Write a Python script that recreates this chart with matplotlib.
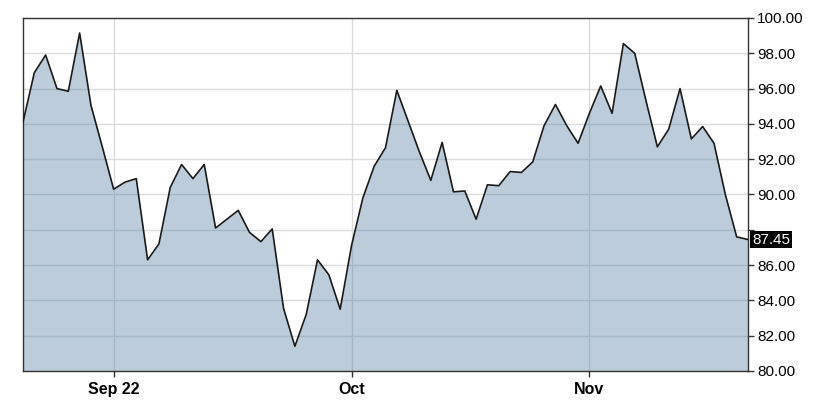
import numpy as np
import pandas as pd
import matplotlib
matplotlib.use('Agg')
import matplotlib.pyplot as plt

#%% data

# trading days Aug 22 - Nov 21 2022 (Labor Day closed)
dates = pd.bdate_range('2022-08-22', '2022-11-21')
dates = dates[dates != pd.Timestamp('2022-09-05')]

prices = [94.1, 96.9, 97.9, 96.0, 95.85, 99.15, 95.05, 92.7, 90.3, 90.7,
          90.9, 86.3, 87.2, 90.4, 91.7, 90.9, 91.7, 88.1, 88.6, 89.1,
          87.85, 87.33, 88.05, 83.55, 81.4, 83.2, 86.3, 85.45, 83.5, 87.1,
          89.8, 91.6, 92.65, 95.9, 94.15, 92.4, 90.8, 92.95, 90.15, 90.2,
          88.6, 90.55, 90.5, 91.3, 91.25, 91.85, 93.9, 95.1, 93.9, 92.9,
          94.6, 96.15, 94.6, 98.55, 98.0, 95.3, 92.7, 93.7, 96.0, 93.15,
          93.85, 92.9, 90.0, 87.6, 87.45]

month_labels = ['Sep 22', 'Oct', 'Nov']
y_ticks = [80, 82, 84, 86, 88, 90, 92, 94, 96, 98, 100]
last_label = '87.45'

#%% plot

plt.rcParams['font.family'] = ['Liberation Sans', 'DejaVu Sans']

fig = plt.figure(figsize=(8.16, 4.09), dpi=100)
ax = fig.add_axes([23/816, 1-371/409, 725/816, 353/409])

x = np.arange(len(prices))
ax.fill_between(x, prices, 80, color='#3f6f99', alpha=0.35, lw=0, zorder=2)
ax.plot(x, prices, color='#1a1a1a', lw=1.2, zorder=3)

# first trading day of each month
months = dates.month
month_pos = [i for i in range(1, len(dates)) if months[i] != months[i-1]]

ax.set_xlim(0, len(prices) - 1)
ax.set_ylim(80, 100)
ax.set_xticks(month_pos)
ax.set_xticklabels(month_labels, fontweight='bold', fontsize=11.5)
ax.set_yticks(y_ticks)
# the last-price tag takes the place of the label it sits on
ylabels = ['%.2f' % v for v in y_ticks]
near = int(np.argmin(np.abs(np.array(y_ticks) - prices[-1])))
ylabels[near] = ''
ax.set_yticklabels(ylabels, fontsize=11)
ax.yaxis.tick_right()
ax.tick_params(axis='both', direction='out', length=4, width=1, color='#333333')
ax.tick_params(axis='y', pad=2.5)
ax.tick_params(axis='x', pad=4)

ax.grid(True, color='#dcdcdc', lw=1, zorder=1)
ax.set_axisbelow(True)
for s in ax.spines.values():
    s.set_color('#333333')
    s.set_linewidth(1)

# last price tag
ax.text(1.0055, prices[-1], last_label, transform=ax.get_yaxis_transform(),
        color='white', fontsize=11, va='center', ha='left',
        bbox=dict(boxstyle='square,pad=0.1', fc='black', ec='none'),
        zorder=5, clip_on=False)

plt.savefig('out.png', dpi=100)
